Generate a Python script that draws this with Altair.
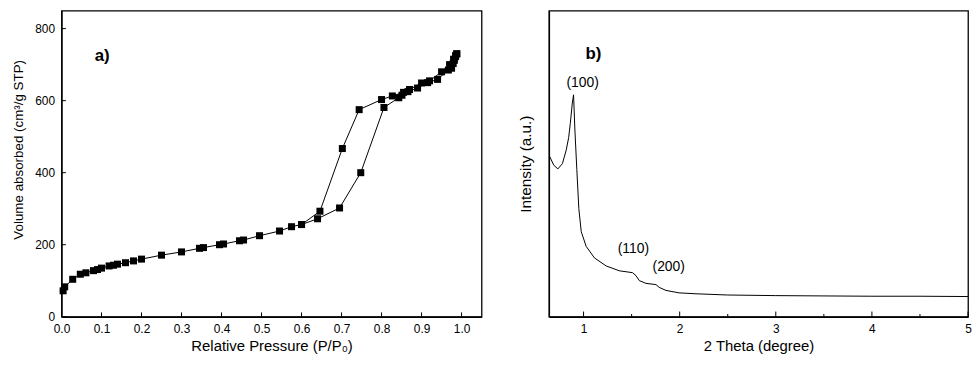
import altair as alt
import pandas as pd

# ---- Panel a) N2 sorption isotherm ----
ads_p = [0.004, 0.008, 0.028, 0.047, 0.061, 0.08, 0.09, 0.1, 0.119, 0.13, 0.14, 0.16, 0.18, 0.2,
         0.25, 0.3, 0.345, 0.355, 0.395, 0.405, 0.445, 0.455, 0.495, 0.545, 0.575, 0.6, 0.64,
         0.695, 0.748, 0.806, 0.843, 0.851, 0.866, 0.89, 0.915, 0.94, 0.967, 0.975, 0.979,
         0.982, 0.985, 0.988]
ads_v = [72, 83, 104, 118, 122, 128, 131, 135, 141, 143, 146, 150, 155, 160,
         171, 180, 190, 192, 200, 202, 211, 213, 225, 238, 250, 256, 272,
         302, 400, 581, 608, 615, 625, 635, 650, 659, 685, 690, 703,
         712, 722, 730]
des_p = [0.988, 0.985, 0.98, 0.97, 0.95, 0.92, 0.90, 0.87, 0.855, 0.827, 0.80, 0.744, 0.702, 0.646, 0.6]
des_v = [730, 725, 715, 700, 680, 655, 649, 631, 623, 613, 603, 575, 467, 293, 256]

a_xticks = [0.0, 0.1, 0.2, 0.3, 0.4, 0.5, 0.6, 0.7, 0.8, 0.9, 1.0]
a_yticks = [0, 200, 400, 600, 800]

# ---- Panel b) low-angle XRD ----
xrd_2theta = [0.647, 0.69, 0.733, 0.78, 0.82, 0.845, 0.862, 0.882, 0.896, 0.91, 0.93, 0.951, 0.976,
              1.027, 1.114, 1.235, 1.373, 1.51, 1.546, 1.58, 1.65, 1.753, 1.787, 1.857, 1.994,
              2.17, 2.5, 3.0, 3.5, 4.0, 4.5, 5.0]
xrd_int = [52.4, 49.5, 48.3, 50.0, 54.5, 58.5, 63.1, 69.5, 72.5, 61.0, 48.1, 35.3, 27.8,
           23.0, 19.2, 16.6, 15.0, 14.4, 13.4, 11.8, 10.9, 10.5, 9.6, 8.6, 7.8,
           7.5, 7.1, 6.9, 6.8, 6.7, 6.7, 6.6]
b_major = [1, 2, 3, 4, 5]
b_minor = [1.5, 2.5, 3.5, 4.5]
peak_labels = ["(100)", "(110)", "(200)"]
peak_x = [0.99, 1.518, 1.886]
peak_y = [76.3, 22.2, 16.3]

FONT = "Arial, Liberation Sans, sans-serif"

iso = pd.DataFrame({
    "p": ads_p + des_p,
    "v": ads_v + des_v,
    "branch": ["ads"] * len(ads_p) + ["des"] * len(des_p),
    "idx": list(range(len(ads_p))) + list(range(len(des_p))),
})

xa = alt.X("p:Q", scale=alt.Scale(domain=[0, 1.05], nice=False, zero=False),
           axis=alt.Axis(values=a_xticks, format=".1f", title="Relative Pressure (P/P₀)",
                         ticks=False, grid=False, labelPadding=7, titlePadding=4, labelFlush=False))
ya = alt.Y("v:Q", scale=alt.Scale(domain=[0, 850], nice=False),
           axis=alt.Axis(values=a_yticks, title="Volume absorbed (cm³/g STP)", ticks=False,
                         grid=False, labelPadding=7, titlePadding=9, titleFontSize=13.5,
                         labelFlush=False, titleY=140))

a_line = alt.Chart(iso).mark_line(color="black", strokeWidth=1).encode(
    x=xa, y=ya, detail="branch:N", order="idx:Q")
a_pts = alt.Chart(iso).mark_point(shape="square", filled=True, color="black", size=50, opacity=1).encode(
    x="p:Q", y="v:Q")
a_xt = alt.Chart(pd.DataFrame({"t": a_xticks})).mark_rule(color="black", strokeWidth=1).encode(
    x="t:Q", y=alt.datum(0), y2=alt.datum(12))
a_yt = alt.Chart(pd.DataFrame({"t": a_yticks})).mark_rule(color="black", strokeWidth=1).encode(
    y="t:Q", x=alt.datum(0), x2=alt.datum(0.011))
a_lab = alt.Chart(pd.DataFrame({"p": [0.083], "v": [723], "t": ["a)"]})).mark_text(
    font=FONT, fontSize=17, fontWeight="bold", align="left", baseline="middle", color="black").encode(
    x="p:Q", y="v:Q", text="t:N")

left = alt.layer(a_line, a_pts, a_xt, a_yt, a_lab).properties(width=424, height=309)

xrd = pd.DataFrame({"x": xrd_2theta, "y": xrd_int})
xb = alt.X("x:Q", scale=alt.Scale(domain=[0.64, 5], nice=False, zero=False),
           axis=alt.Axis(values=b_major, format="d", title="2 Theta (degree)", ticks=False,
                         grid=False, labelPadding=7, titlePadding=4, labelFlush=False))
yb = alt.Y("y:Q", scale=alt.Scale(domain=[0, 100], nice=False),
           axis=alt.Axis(labels=False, ticks=False, grid=False, title="Intensity (a.u.)",
                         titlePadding=16, titleFontSize=15.5))

b_line = alt.Chart(xrd).mark_line(color="black", strokeWidth=1).encode(x=xb, y=yb)
b_major_t = alt.Chart(pd.DataFrame({"t": b_major})).mark_rule(color="black", strokeWidth=1).encode(
    x="t:Q", y=alt.datum(0), y2=alt.datum(1.7))
b_minor_t = alt.Chart(pd.DataFrame({"t": b_minor})).mark_rule(color="black", strokeWidth=1).encode(
    x="t:Q", y=alt.datum(0), y2=alt.datum(0.9))
b_peaks = alt.Chart(pd.DataFrame({"x": peak_x, "y": peak_y, "t": peak_labels})).mark_text(
    font=FONT, fontSize=14, align="center", baseline="middle", color="black").encode(
    x="x:Q", y="y:Q", text="t:N")
b_lab = alt.Chart(pd.DataFrame({"x": [1.02], "y": [85.9], "t": ["b)"]})).mark_text(
    font=FONT, fontSize=17, fontWeight="bold", align="left", baseline="middle", color="black").encode(
    x="x:Q", y="y:Q", text="t:N")

right = alt.layer(b_line, b_major_t, b_minor_t, b_peaks, b_lab).properties(width=423, height=309)

chart = alt.hconcat(left, right, spacing=35).properties(
    padding={"left": 3, "top": 0, "right": 0, "bottom": 0},
    background="white",
).configure_view(stroke="black", strokeWidth=1.3).configure_axis(
    domainColor="black", domainWidth=1.3, labelColor="black", titleColor="black",
    labelFont=FONT, titleFont=FONT, labelFontSize=12, titleFontSize=15, titleFontWeight="normal"
)

chart.save("out.html", embed_options={"renderer": "svg", "actions": False})
